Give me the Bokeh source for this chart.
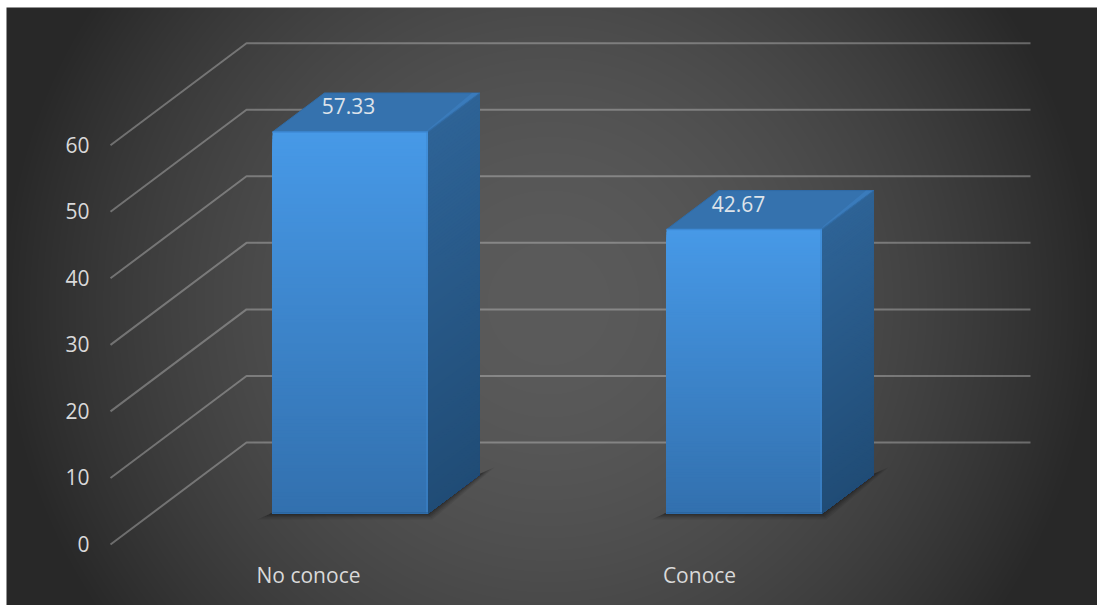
import numpy as np
from bokeh.core.properties import value
from bokeh.embed import file_html
from bokeh.models import Range1d
from bokeh.plotting import figure
from bokeh.resources import INLINE

# Chart content
categories = ["No conoce", "Conoce"]
percentages = [57.33, 42.67]
value_ticks = [0, 10, 20, 30, 40, 50, 60]
tick_labels = ["0", "10", "20", "30", "40", "50", "60"]

# Page layout, in pixels; the vertical scale maps chart values to page rows
WIDTH, HEIGHT = 1097, 605
PX_PER_UNIT = 6.655
ZERO_ROW = 544.0
DEPTH_X = 136.0            # horizontal run of the floor, front to back
DEPTH_Y = 102.0 / PX_PER_UNIT  # vertical rise of the floor, in value units
BAR_LEFT = [272.0, 666.0]
BAR_WIDTH = 155.5
BAR_DEPTH_FROM, BAR_DEPTH_TO = 0.304, 0.686
WALL_LEFT, WALL_RIGHT = 246.0, 1030.0
AXIS_LEFT = 110.0


def row(v):
    return (ZERO_ROW - v) / PX_PER_UNIT


p = figure(
    width=WIDTH,
    height=HEIGHT,
    x_range=Range1d(0, WIDTH),
    y_range=Range1d(row(HEIGHT), row(0)),
    output_backend="svg",
    toolbar_location=None,
    min_border=0,
    border_fill_color="white",
    background_fill_color="white",
    outline_line_color=None,
)
p.xaxis.visible = False
p.yaxis.visible = False
p.xgrid.visible = False
p.ygrid.visible = False

# Radial backdrop, brightest at the middle of the panel
panel_x0, panel_top = 6, 7
pw, ph = WIDTH - panel_x0, HEIGHT - panel_top
xx, yy = np.meshgrid(np.arange(pw) + panel_x0, np.arange(ph) + panel_top)
dist = np.clip(np.hypot(xx - 548, yy - 303) / 550.0, 0, 1)
shade = (0x5b - (0x5b - 0x28) * dist ** 1.8).astype(np.uint32)
packed = (255 << 24) | (shade << 16) | (shade << 8) | shade
p.image_rgba(
    image=[packed[::-1].astype(np.uint32)],
    x=panel_x0,
    y=row(HEIGHT),
    dw=pw,
    dh=ph / PX_PER_UNIT,
)

# Back wall and side wall gridlines
grid_xs, grid_ys = [], []
for t in value_ticks:
    grid_xs.append([AXIS_LEFT, WALL_LEFT, WALL_RIGHT])
    grid_ys.append([t, t + DEPTH_Y, t + DEPTH_Y])
p.multi_line(grid_xs, grid_ys, line_color="#D9D9D9", line_alpha=0.36, line_width=2)


def lerp_color(a, b, t):
    c = [round(a[i] + (b[i] - a[i]) * t) for i in range(3)]
    return "#%02x%02x%02x" % tuple(c)


FRONT_TOP, FRONT_BOTTOM = (0x47, 0x99, 0xE7), (0x32, 0x70, 0xAE)
SIDE_TOP, SIDE_BOTTOM = (0x2E, 0x63, 0x96), (0x20, 0x4C, 0x76)
TOP_FACE = "#3572AE"
BANDS = 110

for left, val in zip(BAR_LEFT, percentages):
    right = left + BAR_WIDTH
    base = BAR_DEPTH_FROM * DEPTH_Y
    dx = (BAR_DEPTH_TO - BAR_DEPTH_FROM) * DEPTH_X
    dy = (BAR_DEPTH_TO - BAR_DEPTH_FROM) * DEPTH_Y
    top = base + val

    # Soft contact shadow on the floor
    for grow, alpha in [(15, 0.08), (12, 0.10), (9, 0.12), (6, 0.15), (3, 0.20)]:
        g = grow / PX_PER_UNIT
        p.patch(
            [left - grow, right + grow * 0.3, right + dx + grow, right + dx - 2, left - 2],
            [base - g * 0.4, base - g * 0.4, base + dy + g * 0.5, base + dy, base],
            fill_color="#111111",
            fill_alpha=alpha,
            line_color=None,
        )

    # Right-hand face, painted top-down so that lower bands cover upper ones
    for i in range(BANDS):
        t = i / BANDS
        y_hi = top - val * t
        p.patch(
            [right, right + dx, right + dx, right],
            [y_hi, y_hi + dy, base + dy, base],
            fill_color=lerp_color(SIDE_TOP, SIDE_BOTTOM, t),
            line_color=None,
        )

    # Upper face
    p.patch(
        [left, left + dx, right + dx, right],
        [top, top + dy, top + dy, top],
        fill_color=TOP_FACE,
        line_color="#2F6CA8",
        line_width=1,
        line_join="round",
    )
    # Bevel highlight on the edge running back from the front corner
    p.patch(
        [right - 2, right + dx - 1, right + dx - 8, right + 2],
        [top, top + dy, top + dy, top + 4 / PX_PER_UNIT],
        fill_color="#3D80C2",
        fill_alpha=0.65,
        line_color=None,
    )

    # Front face
    for i in range(BANDS):
        t = i / BANDS
        p.quad(
            left=left,
            right=right,
            bottom=base,
            top=top - val * t,
            fill_color=lerp_color(FRONT_TOP, FRONT_BOTTOM, t),
            line_color=None,
        )
    # Rim along the front face's upper and right edges
    p.line([left, right], [top, top], line_color="#3E8AD6", line_width=1.5)
    p.line([right - 1, right - 1], [top, base], line_color="#3C86CE", line_alpha=0.5, line_width=2)
    p.line([left, right], [base + 0.1, base + 0.1], line_color="#2A6299", line_width=1)

font = value("Open Sans")

# Value axis labels
p.text(
    x=[89] * len(value_ticks),
    y=[t + 0.1 for t in value_ticks],
    text=tick_labels,
    text_font=font,
    text_font_size="21px",
    text_color="#D9D9D9",
    text_align="right",
    text_baseline="middle",
)

# Category labels, on the floor's front edge
p.text(
    x=[308, 699],
    y=[row(574)] * len(categories),
    text=categories,
    text_font=font,
    text_font_size="21px",
    text_color="#D9D9D9",
    text_align="center",
    text_baseline="middle",
)

# Percentages on top of each bar
p.text(
    x=[348, 738],
    y=[v + BAR_DEPTH_FROM * DEPTH_Y + 3.9 for v in percentages],
    text=["%.2f" % v for v in percentages],
    text_font=font,
    text_font_size="21px",
    text_color="#DDE3EA",
    text_align="center",
    text_baseline="middle",
)

open("out.html", "w").write(file_html(p, INLINE))
